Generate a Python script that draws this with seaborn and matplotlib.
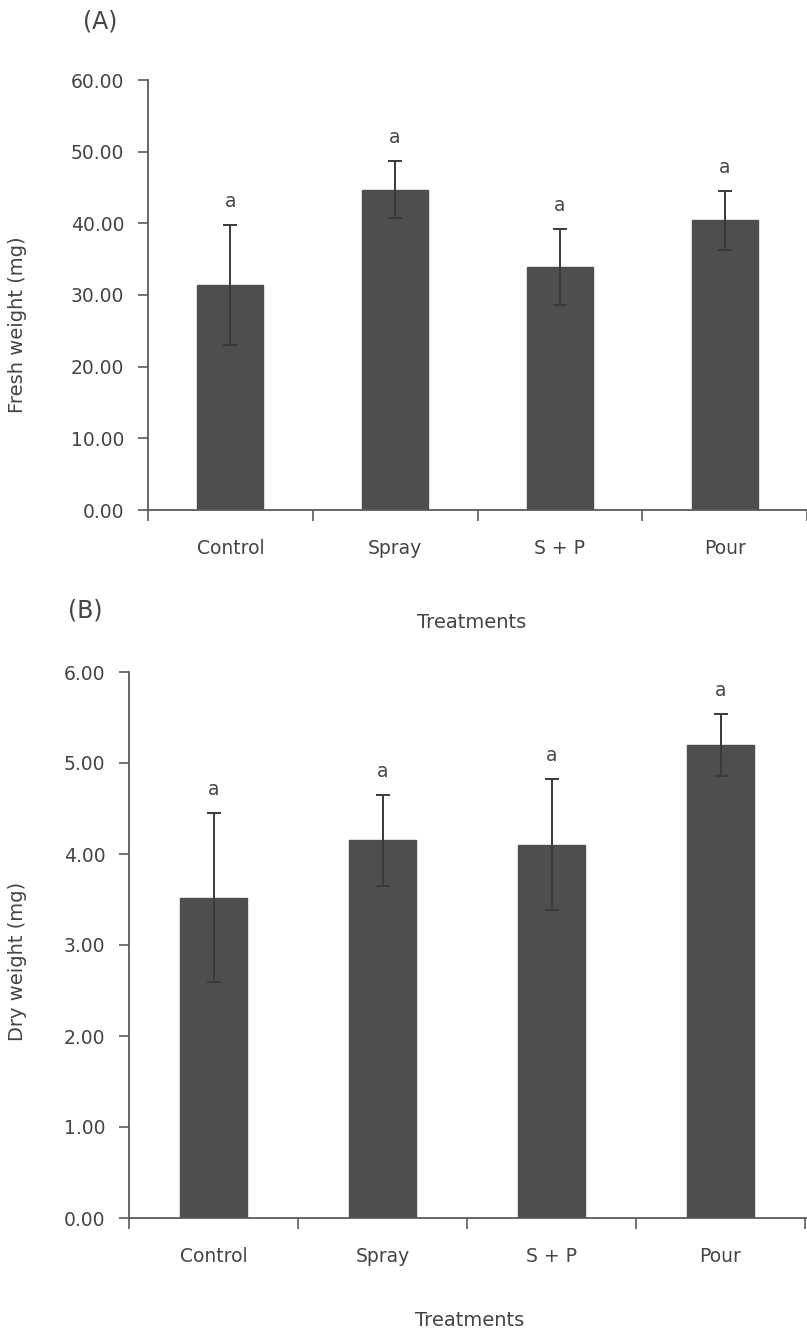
import matplotlib
matplotlib.use("Agg")
import matplotlib.pyplot as plt
import seaborn as sns
import pandas as pd
import numpy as np

treatments = ["Control", "Spray", "S + P", "Pour"]
fresh_mean = [31.4, 44.7, 33.9, 40.4]
fresh_err = [8.4, 4.0, 5.3, 4.1]
dry_mean = [3.52, 4.15, 4.10, 5.20]
dry_err = [0.93, 0.50, 0.72, 0.34]
sig_fresh = ["a", "a", "a", "a"]
sig_dry = ["a", "a", "a", "a"]
fresh_ticks = [0, 10, 20, 30, 40, 50, 60]
dry_ticks = [0, 1, 2, 3, 4, 5, 6]

sns.set_theme(style="white")
plt.rcParams['font.family'] = ['DejaVu Sans']
TXT = "#444444"
BAR = "#4e4e4e"
SP = "#5a5a5a"

W, H = 807, 1332
fig = plt.figure(figsize=(W / 100, H / 100), dpi=100)

def ylab_x_frac(rect):
    left_px = rect[0] * W
    width_px = rect[2] * W
    return (27 - left_px) / width_px

def panel(rect, means, errs, sig, ticks, ylab, xright, ylab_y):
    ax = fig.add_axes(rect)
    df = pd.DataFrame({"Treatment": treatments, "Value": means})
    sns.barplot(data=df, x="Treatment", y="Value", color=BAR, width=0.4,
                saturation=1, errorbar=None, ax=ax, edgecolor=BAR)
    ax.errorbar(np.arange(len(means)), means, yerr=errs, fmt="none",
                ecolor="#3a3a3a", elinewidth=1.4, capsize=5, capthick=1.4, zorder=5)
    for i, (m, e, s) in enumerate(zip(means, errs, sig)):
        ax.annotate(s, (i, m + e), xytext=(0, 17), textcoords="offset points",
                    ha="center", va="center", fontsize=13.5, color=TXT)
    ax.set_xlim(-0.5, xright)
    ax.set_ylim(ticks[0], ticks[-1])
    ax.set_yticks(ticks)
    ax.set_yticklabels([f"{t:.2f}" for t in ticks])
    ax.set_xticks(range(len(treatments)))
    ax.set_xticklabels(treatments)
    ax.set_xticks([-0.5, 0.5, 1.5, 2.5, 3.5], minor=True)
    ax.tick_params(axis="x", which="major", length=0, pad=21, labelsize=13.5, labelcolor=TXT)
    ax.tick_params(axis="x", which="minor", length=8, width=1.2, color=SP, direction="out", bottom=True)
    ax.tick_params(axis="y", length=7, width=1.2, color=SP, direction="out", left=True,
                   labelsize=13.5, labelcolor=TXT, pad=10)
    for s in ["top", "right"]:
        ax.spines[s].set_visible(False)
    for s in ["left", "bottom"]:
        ax.spines[s].set_color(SP)
        ax.spines[s].set_linewidth(1.3)
    ax.set_xlabel("")
    ax.set_ylabel(ylab, fontsize=14, color=TXT)
    ax.yaxis.set_label_coords(ylab_x_frac(rect), ylab_y)
    ax.grid(False)
    return ax

rectA = [148 / W, 1 - 510 / H, (W - 148) / W, 430 / H]
panel(rectA, fresh_mean, fresh_err, sig_fresh, fresh_ticks, "Fresh weight (mg)",
      -0.5 + (W - 148) / 166, 0.43)

rectB = [129 / W, 1 - 1218 / H, (W - 129) / W, 546 / H]
panel(rectB, dry_mean, dry_err, sig_dry, dry_ticks, "Dry weight (mg)",
      -0.5 + (W - 129) / 169, 0.47)

fig.text(100 / W, 1 - 22 / H, "(A)", fontsize=17, color=TXT, ha="center", va="center")
fig.text(85 / W, 1 - 610 / H, "(B)", fontsize=17, color=TXT, ha="center", va="center")
fig.text(472 / W, 1 - 622 / H, "Treatments", fontsize=14, color=TXT, ha="center", va="center")
fig.text(470 / W, 1 - 1320 / H, "Treatments", fontsize=14, color=TXT, ha="center", va="center")

fig.savefig("out.png", dpi=100, facecolor="white")
